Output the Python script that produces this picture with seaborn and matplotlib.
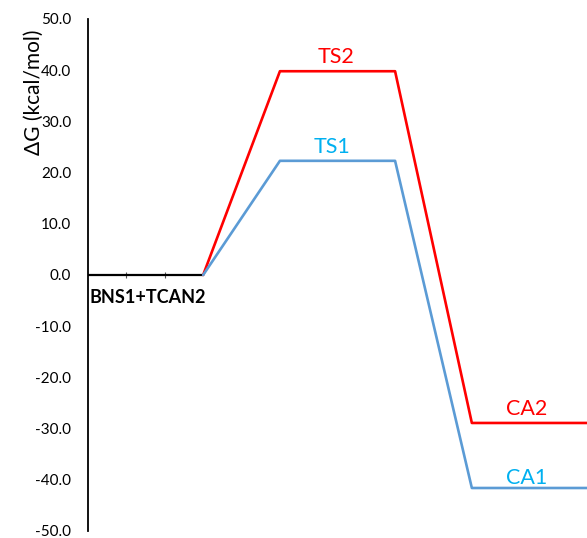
import matplotlib
matplotlib.use("Agg")
import matplotlib.pyplot as plt
import seaborn as sns
import pandas as pd
from matplotlib.ticker import FormatStrFormatter

# data
x_start = [0, 3]
y_start = [0.0, 0.0]
x_path = [3, 5, 8, 10, 13]
ts2_path = [0.0, 39.8, 39.8, -28.9, -28.9]
ts1_path = [0.0, 22.3, 22.3, -41.6, -41.6]
state_labels = ["BNS1+TCAN2", "TS1", "TS2", "CA1", "CA2"]
yticks = [-50, -40, -30, -20, -10, 0, 10, 20, 30, 40, 50]

sns.set_style("white")
plt.rcParams['font.family'] = ['Lato', 'DejaVu Sans']

fig = plt.figure(figsize=(5.87, 5.38), dpi=100)
ax = fig.add_axes([88/587, 1 - 531/538, (587-88)/587, (531-19)/538])

df0 = pd.DataFrame({"x": x_start, "y": y_start})
df2 = pd.DataFrame({"x": x_path, "y": ts2_path})
df1 = pd.DataFrame({"x": x_path, "y": ts1_path})

sns.lineplot(data=df0, x="x", y="y", ax=ax, color="black", linewidth=1.6, sort=False)
sns.lineplot(data=df2, x="x", y="y", ax=ax, color="#FF0000", linewidth=1.9, sort=False)
sns.lineplot(data=df1, x="x", y="y", ax=ax, color="#5B9BD5", linewidth=1.9, sort=False)

ax.set_xlim(0, 13)
ax.set_ylim(-50, 50)
ax.set_yticks(yticks)
ax.yaxis.set_major_formatter(FormatStrFormatter('%.1f'))
ax.tick_params(axis='y', length=0, pad=12, labelsize=11, colors='black')
ax.set_xlabel("")
ax.set_ylabel("")

for s in ["top", "right"]:
    ax.spines[s].set_visible(False)
ax.spines["left"].set_color("black")
ax.spines["left"].set_linewidth(1.3)
ax.spines["bottom"].set_position(("data", 0))
ax.spines["bottom"].set_visible(False)
ax.set_xticks([1, 2])
ax.tick_params(axis='x', direction='inout', length=4, width=0.8, color='#555555',
               labelbottom=False, bottom=True)

ax.text(-0.108, 0.857, "ΔG (kcal/mol)", transform=ax.transAxes, rotation=90,
        ha='center', va='center', fontsize=15, color='black')

ax.text(1.56, -4.3, state_labels[0], ha='center', va='center', fontsize=13,
        fontweight='bold', color='black')
ax.text(6.35, 25.0, state_labels[1], ha='center', va='center', fontsize=15.5, color='#00B0F0')
ax.text(6.45, 42.6, state_labels[2], ha='center', va='center', fontsize=15.5, color='#FF0000')
ax.text(11.43, -39.7, state_labels[3], ha='center', va='center', fontsize=15.5, color='#00B0F0')
ax.text(11.43, -26.2, state_labels[4], ha='center', va='center', fontsize=15.5, color='#FF0000')

fig.savefig("out.png", dpi=100)
